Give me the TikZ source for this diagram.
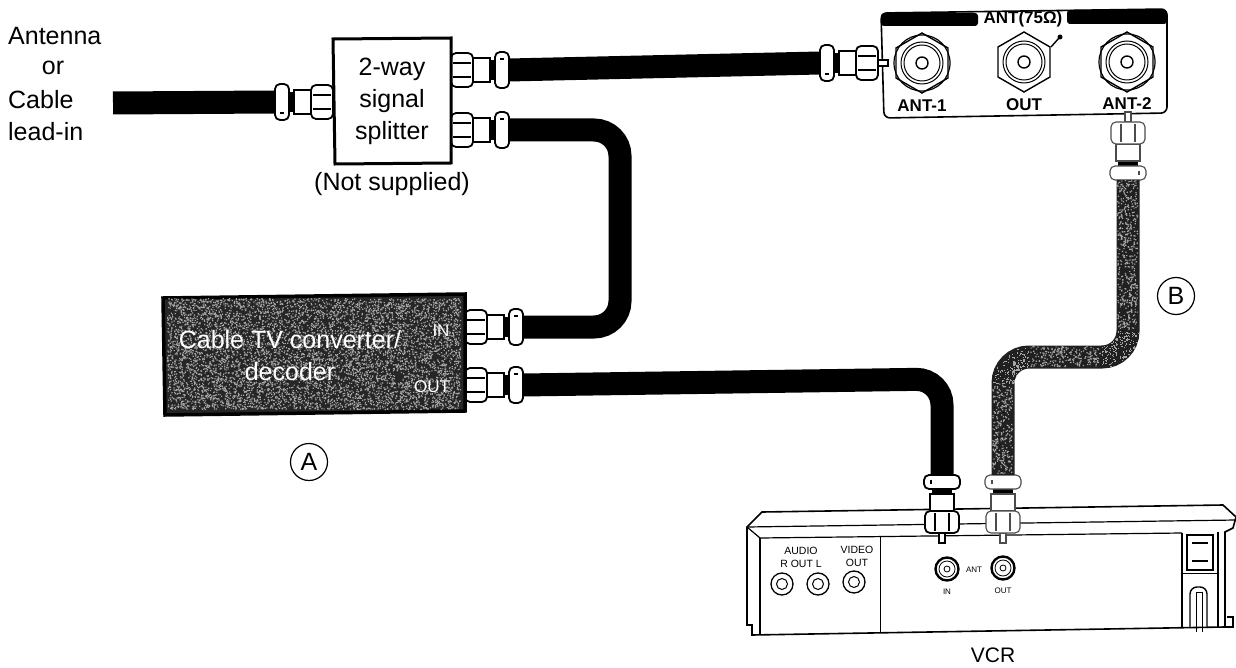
\documentclass[tikz,border=0pt]{standalone}
\usepackage{fontspec}
\setmainfont{Liberation Sans}
\usetikzlibrary{shapes.geometric}

\tikzset{
    lbl/.style={font=\fontsize{25}{32}\selectfont,inner sep=0pt},
    panellbl/.style={font=\fontsize{17}{20}\bfseries\selectfont,inner sep=0pt},
    vcrlbl/.style={font=\fontsize{10.5}{12}\selectfont,inner sep=0pt},
    vcrtiny/.style={font=\fontsize{8}{10}\selectfont,inner sep=0pt},
    cable/.style={line width=23pt,black,rounded corners=26pt},
    cablegrey/.style={line width=23pt,gray!25!black,rounded corners=26pt},
    plugline/.style={draw=black,line width=1.8pt,fill=white},
    pluglight/.style={draw=black!70,line width=1.1pt,fill=white},
}

% name, x, y, angle, line style
\newcommand{\plug}[5]{
    \begin{scope}[shift={(#2,#3)},rotate=#4]
        \draw[#5] (-10,-3) rectangle (0,3); %pin
        \fill[black] (38,-10) rectangle (45,10); %neck
        \draw[#5] (22,-12) rectangle (39,12); %body
        \draw[#5,rounded corners=5pt] (0,-17) rectangle (22,17); %nut
        \draw[#5] (2,-7) -- (20,-7);
        \draw[#5] (2,7) -- (20,7);
        \draw[#5,rounded corners=5pt] (44,-18) rectangle (58,18); %collar
        \draw[#5] (49,-11) -- (53,-11);
        \coordinate (#1) at (58,0);
    \end{scope}
}

% name, x, y
\newcommand{\jack}[3]{
    \node[regular polygon,regular polygon sides=6,shape border rotate=30,draw,line width=1.4pt,minimum size=60pt,inner sep=0pt] (#1) at (#2,#3) {};
    \draw[line width=1pt] (#1.center) circle (21pt);
    \draw[line width=1pt] (#1.center) circle (18pt);
    \draw[line width=1.4pt] (#1.center) circle (6pt);
}

% x, y, w, h, count
\newcommand{\specks}[5]{
    \fill[gray!70] \foreach \i in {1,...,#5}{ ({#1+(#3-2)*rnd},{#2+(#4-2)*rnd}) rectangle +(1.2,1.2) };
}

\begin{document}
\begin{tikzpicture}[x=1pt,y=-1pt]
    \useasboundingbox (0,0) rectangle (1236,668);
    \pgfmathsetseed{42}

    % left side text
    \node[lbl,anchor=west] (antenna) at (8,36) {Antenna};
    \node[lbl] (antor) at (53,68) {or};
    \node[lbl,anchor=west] (cablein) at (8,100) {Cable};
    \node[lbl,anchor=west] (leadin) at (8,132) {lead-in};

    % splitter
    \plug{splin}{333}{102}{180}{plugline}
    \plug{spltop}{451}{70}{0}{plugline}
    \plug{spllow}{451}{130}{0}{plugline}
    \draw[line width=3pt,fill=white] (333,39) -- (451,38) -- (451,163) -- (335,164) -- cycle;
    \node[lbl,align=center] (splitter) at (392,101) {2-way\\signal\\splitter};
    \node[lbl] (notsup) at (392,184) {(Not supplied)};
    \coordinate (leadend) at (113,103);
    \draw[cable] (leadend) -- (splin);

    % antenna panel
    \draw[line width=1.6pt,fill=white,rounded corners=6pt] (881,13) -- (1167,9) -- (1167,113) -- (884,118) -- cycle;
    \fill[black,rounded corners=3pt] (881,13) rectangle (978,26); %header left
    \fill[black,rounded corners=3pt] (1067,10) rectangle (1167,24); %header right
    \node[panellbl] (anttitle) at (1023,19) {ANT(75Ω)};
    \jack{antone}{922}{63}
    \jack{antout}{1024}{62}
    \jack{anttwo}{1127}{62}
    \draw[line width=1.2pt] (922,63) circle (28pt);
    \draw[line width=1.2pt] (1127,62) circle (28pt);
    \draw[line width=1.4pt] (1051,47) -- (1059,38); %tick
    \fill (1060,37) circle (2.5pt);
    \node[panellbl] (antonelbl) at (922,106) {ANT-1};
    \node[panellbl] (antoutlbl) at (1024,105) {OUT};
    \node[panellbl] (anttwolbl) at (1127,104) {ANT-2};
    \plug{antin}{878}{63}{180}{plugline}
    \plug{anttwoend}{1128}{122}{-90}{pluglight}
    \draw[cable] (spltop) -- (antin);

    % converter
    \plug{tvin}{465}{327}{0}{plugline}
    \plug{tvout}{465}{385}{0}{plugline}
    \draw[line width=3.5pt,fill=gray!30!black] (163,298) -- (465,294) -- (465,411) -- (165,415) -- cycle;
    \foreach \j in {1,...,7}{
        \specks{167}{298}{295}{113}{1000}
    }
    \node[lbl,white,align=center] (tvname) at (290,356) {Cable TV converter/\\decoder};
    \node[font=\fontsize{17}{20}\selectfont,inner sep=0pt,white] (tvinlbl) at (441,331) {IN};
    \node[font=\fontsize{17}{20}\selectfont,inner sep=0pt,white] (tvoutlbl) at (432,387) {OUT};
    \draw[cable] (tvin) -- (620,327) -- (620,130) -- (spllow);

    \node[lbl,draw,circle,line width=1.2pt,minimum size=37pt] (marka) at (309,462) {A};
    \node[lbl,draw,circle,line width=1.2pt,minimum size=37pt] (markb) at (1176,296) {B};

    % vcr
    \draw[line width=1.6pt,fill=white] (747,527) -- (762,512) -- (1223,505) -- (1236,517) -- (1233,528) -- (1225,532) -- (1225,627) -- (752,635) -- (752,625) -- (747,625) -- cycle;
    \draw[line width=1.2pt] (747,527) -- (1236,520);
    \draw[line width=1.2pt] (747,527) -- (760,538) -- (1182,533);
    \draw[line width=1.2pt] (760,538) -- (760,635);
    \draw[line width=1pt] (880,537) -- (880,632);
    \draw[line width=1.2pt] (1182,533) -- (1182,627);
    \draw[line width=1.2pt] (1218,532) -- (1218,627);
    \draw[line width=1pt] (1182,573) -- (1218,573);
    \draw[line width=1.2pt] (1227,617) -- (1233,617) -- (1233,627) -- (1225,627);
    \draw[line width=2pt,fill=white] (1187,535) rectangle (1213,570); %switch
    \draw[line width=2pt] (1192,543) -- (1208,543);
    \draw[line width=2pt] (1192,561) -- (1208,561);
    \draw[line width=1.4pt,rounded corners=7pt] (1190,628) -- (1190,587) -- (1207,587) -- (1207,628); %power cord
    \draw[line width=1pt] (1196,632) -- (1196,592) -- (1202,592) -- (1202,632);

    \foreach \px/\py/\pname in {782/584/audr,818/584/audl,854/582/vidout}{
        \node[circle,draw,line width=1.3pt,minimum size=22pt,inner sep=0pt] (\pname) at (\px,\py) {};
        \draw[line width=1pt] (\pname.center) circle (5.5pt);
    }
    \foreach \px/\py/\pname in {947/569/vcrin,1003/568/vcrout}{
        \node[circle,draw,line width=2.4pt,minimum size=23pt,inner sep=0pt] (\pname) at (\px,\py) {};
        \draw[line width=.8pt] (\pname.center) circle (8pt);
        \draw[line width=.8pt] (\pname.center) circle (3pt);
    }
    \node[vcrlbl] (audiolbl) at (801,551) {AUDIO};
    \node[vcrlbl] (routl) at (801,564) {R OUT L};
    \node[vcrlbl] (videolbl) at (857,550) {VIDEO};
    \node[vcrlbl] (vidoutlbl) at (857,563) {OUT};
    \node[vcrtiny] (antlbl) at (974,570) {ANT};
    \node[vcrtiny] (inlbl) at (947,592) {IN};
    \node[vcrtiny] (outlbl) at (1003,591) {OUT};
    \node[font=\fontsize{21}{24}\selectfont,inner sep=0pt] (vcrname) at (993,655) {VCR};

    \plug{vcrinend}{942}{533}{90}{plugline}
    \plug{vcroutend}{1003}{533}{90}{pluglight}

    \draw[cable] (tvout) -- (942,379) -- (vcrinend);
    \draw[cablegrey] (anttwoend) -- (1128,357) -- (1003,357) -- (vcroutend);
    \specks{1117}{180}{22}{151}{500}
    \specks{1029}{346}{73}{22}{240}
    \specks{992}{383}{22}{92}{300}
    \foreach \i in {1,...,150}{
        \pgfmathsetmacro{\ra}{15+21*rnd}
        \pgfmathsetmacro{\ta}{90*rnd}
        \fill[gray!70] ({1102+\ra*cos(\ta)},{331+\ra*sin(\ta)}) rectangle +(1.2,1.2);
        \pgfmathsetmacro{\ra}{15+21*rnd}
        \pgfmathsetmacro{\ta}{90*rnd}
        \fill[gray!70] ({1029-\ra*cos(\ta)},{383-\ra*sin(\ta)}) rectangle +(1.2,1.2);
    }
\end{tikzpicture}
\end{document}
